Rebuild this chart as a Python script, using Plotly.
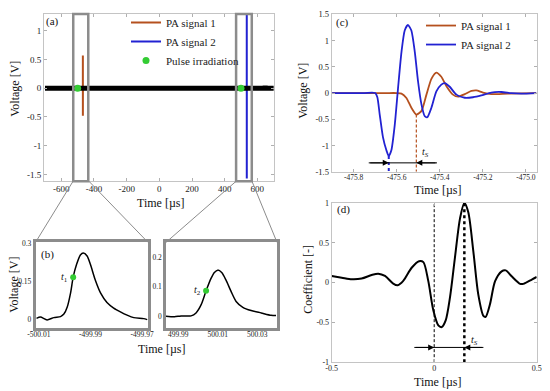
import plotly.graph_objects as go

# Browser body has an 8px margin: the figure is sized to fill the rest of the 550x391 window.
REF_W, REF_H, OFF = 550, 391, 8
W, H = REF_W - OFF, REF_H - OFF
FONT = "Liberation Serif"

# ---------------- Panel (a): full record ----------------
a_bg_t = [-700, -600, -500, -400, -300, -200, -100, 0, 100, 200, 300, 400, 500, 600, 646, 648, 650, 700]
a_bg_v = [0.0, 0.0, 0.0, 0.0, 0.0, 0.0, 0.0, 0.0, 0.0, 0.0, 0.0, 0.0, 0.0, 0.0, 0.0, 0.04, 0.0, 0.0]
a_sig1_t = [-468.2, -468.1, -468.0, -467.9, -467.8]
a_sig1_v = [0.0, 0.57, -0.48, 0.25, 0.0]
a_sig2_t = [535.2, 535.3, 535.4, 535.5, 535.6]
a_sig2_v = [0.0, 1.35, -1.57, 0.35, 0.0]
pulse_t = [-500.0, 500.0]
pulse_v = [0.0, 0.0]
box_t0 = [-527, 470]
box_t1 = [-435, 566]
a_xticks = [-600, -400, -200, 0, 200, 400, 600]
a_xtext = ["-600", "-400", "-200", "0", "200", "400", "600"]
a_yticks = [-1.5, -1, -0.5, 0, 0.5, 1]
a_ytext = ["-1.5", "-1", "-0.5", "0", "0.5", "1"]

# ---------------- Panel (b): zoom on pulses ----------------
b1_t = [-500.0109, -500.0094, -500.0068, -500.0042, -500.0016, -500.0003, -499.9990, -499.9977,
        -499.9967, -499.9954, -499.9939, -499.9928, -499.9913, -499.9900, -499.9881, -499.9861,
        -499.9836, -499.9810, -499.9784, -499.9758, -499.9732, -499.9694, -499.9680]
b1_v = [0.003, 0.008, -0.003, 0.006, 0.010, 0.020, 0.048, 0.104,
        0.166, 0.216, 0.254, 0.262, 0.250, 0.216, 0.154, 0.104,
        0.066, 0.044, 0.029, 0.016, 0.006, 0.002, -0.002]
b1_pt_t = [-499.9967]
b1_pt_v = [0.166]
b2_t = [499.9833, 499.9881, 499.9914, 499.9965, 499.9990, 500.0016, 500.0041, 500.0066, 500.0083,
        500.0100, 500.0120, 500.0142, 500.0168, 500.0193, 500.0227, 500.0269, 500.0320, 500.0370, 500.0395]
b2_v = [0.0, -0.002, 0.001, 0.001, 0.011, 0.039, 0.086, 0.128, 0.148,
        0.156, 0.148, 0.122, 0.083, 0.050, 0.030, 0.019, 0.011, 0.003, 0.002]
b2_pt_t = [500.0041]
b2_pt_v = [0.086]
b1_xticks = [-500.01, -499.99, -499.97]
b1_xtext = ["-500.01", "-499.99", "-499.97"]
b1_yticks = [0, 0.15, 0.3]
b1_ytext = ["0", "0.15", "0.3"]
b2_xticks = [499.99, 500.01, 500.03]
b2_xtext = ["499.99", "500.01", "500.03"]
b2_yticks = [0, 0.1, 0.2]
b2_ytext = ["0", "0.1", "0.2"]

# ---------------- Panel (c): PA signals ----------------
c_sig1_t = [-475.90, -475.75, -475.65, -475.60, -475.578, -475.555, -475.532, -475.509, -475.485, -475.462,
            -475.439, -475.416, -475.393, -475.369, -475.339, -475.315, -475.284, -475.253, -475.230,
            -475.200, -475.161, -475.083, -474.952]
c_sig1_v = [0.0, 0.0, 0.0, 0.0, -0.01, -0.095, -0.28, -0.41, -0.34, -0.03,
            0.27, 0.39, 0.31, 0.13, -0.03, -0.07, -0.02, 0.04, 0.05,
            0.01, -0.02, -0.01, 0.0]
c_sig2_t = [-475.90, -475.75, -475.70, -475.690, -475.679, -475.664, -475.648, -475.637, -475.625, -475.609,
            -475.594, -475.578, -475.563, -475.548, -475.532, -475.516, -475.501, -475.485, -475.470,
            -475.458, -475.439, -475.416, -475.393, -475.377, -475.354, -475.323, -475.284, -475.246,
            -475.207, -475.161, -475.114, -475.068, -475.021, -474.952]
c_sig2_v = [0.0, 0.0, 0.0, -0.08, -0.41, -0.84, -1.09, -1.20, -1.09, -0.60,
            0.09, 0.78, 1.19, 1.30, 1.19, 0.78, 0.22, -0.22, -0.44,
            -0.46, -0.28, 0.03, 0.16, 0.19, 0.12, -0.03, -0.09, -0.08,
            -0.045, 0.01, 0.02, -0.003, -0.01, 0.0]
c_arrow_start = [-475.73, -475.413]
c_arrow_y = -1.33
c_xticks = [-475.8, -475.6, -475.4, -475.2, -475.0]
c_xtext = ["-475.8", "-475.6", "-475.4", "-475.2", "-475.0"]
c_yticks = [-1.5, -1, -0.5, 0, 0.5, 1, 1.5]
c_ytext = ["-1.5", "-1", "-0.5", "0", "0.5", "1", "1.5"]

# ---------------- Panel (d): cross-correlation ----------------
d_t = [-0.500, -0.451, -0.402, -0.354, -0.305, -0.273, -0.240, -0.200, -0.178, -0.151, -0.110,
       -0.074, -0.053, -0.029, -0.004, 0.020, 0.037, 0.056, 0.077, 0.101, 0.126, 0.147, 0.166,
       0.191, 0.215, 0.240, 0.251, 0.272, 0.297, 0.329, 0.349, 0.378, 0.419, 0.435, 0.476, 0.500]
d_v = [0.083, 0.062, 0.041, 0.050, 0.095, 0.112, 0.083, -0.012, -0.033, 0.021, 0.186,
       0.269, 0.257, 0.021, -0.352, -0.538, -0.559, -0.476, -0.186, 0.311, 0.807, 1.000, 0.886,
       0.390, -0.149, -0.418, -0.430, -0.273, 0.017, 0.141, 0.153, 0.079, -0.016, -0.016, 0.037, 0.070]
d_arrow_start = [-0.097, 0.24]
d_arrow_y = -0.815
d_xticks = [-0.5, 0, 0.5]
d_xtext = ["-0.5", "0", "0.5"]
d_yticks = [-1, -0.5, 0, 0.5, 1]
d_ytext = ["-1", "-0.5", "0", "0.5", "1"]

C1 = "#B5501E"
C2 = "#2222D2"
CG = "#33CC33"
GRAY = "#8c8c8c"


def px(x):
    return (x - OFF) / W


def py(y):
    return 1 - (y - OFF) / H


def dom_x(a, b):
    return [px(a), px(b)]


def dom_y(top, bottom):
    return [py(bottom), py(top)]


fig = go.Figure()

# (a)
fig.add_trace(go.Scatter(x=a_sig1_t, y=a_sig1_v, mode="lines", line=dict(color=C1, width=2),
                         name="PA signal 1", xaxis="x", yaxis="y", legend="legend"))
fig.add_trace(go.Scatter(x=a_sig2_t, y=a_sig2_v, mode="lines", line=dict(color=C2, width=2),
                         name="PA signal 2", xaxis="x", yaxis="y", legend="legend"))
fig.add_trace(go.Scatter(x=a_bg_t, y=a_bg_v, mode="lines", line=dict(color="black", width=5),
                         showlegend=False, xaxis="x", yaxis="y"))
fig.add_trace(go.Scatter(x=pulse_t, y=pulse_v, mode="markers", marker=dict(color=CG, size=7),
                         name="Pulse irradiation", xaxis="x", yaxis="y", legend="legend"))

# (b)
fig.add_trace(go.Scatter(x=b1_t, y=b1_v, mode="lines",
                         line=dict(color="black", width=1.5, shape="spline", smoothing=0.7),
                         showlegend=False, xaxis="x2", yaxis="y2"))
fig.add_trace(go.Scatter(x=b1_pt_t, y=b1_pt_v, mode="markers", marker=dict(color=CG, size=6),
                         showlegend=False, xaxis="x2", yaxis="y2"))
fig.add_trace(go.Scatter(x=b2_t, y=b2_v, mode="lines",
                         line=dict(color="black", width=1.5, shape="spline", smoothing=0.7),
                         showlegend=False, xaxis="x3", yaxis="y3"))
fig.add_trace(go.Scatter(x=b2_pt_t, y=b2_pt_v, mode="markers", marker=dict(color=CG, size=6),
                         showlegend=False, xaxis="x3", yaxis="y3"))

# (c)
i1 = c_sig1_v.index(min(c_sig1_v))
i2 = c_sig2_v.index(min(c_sig2_v))
t1_min, v1_min = c_sig1_t[i1], c_sig1_v[i1]
t2_min, v2_min = c_sig2_t[i2], c_sig2_v[i2]
fig.add_trace(go.Scatter(x=c_sig1_t, y=c_sig1_v, mode="lines",
                         line=dict(color=C1, width=1.8, shape="spline", smoothing=0.6),
                         name="PA signal 1", xaxis="x4", yaxis="y4", legend="legend2"))
fig.add_trace(go.Scatter(x=c_sig2_t, y=c_sig2_v, mode="lines",
                         line=dict(color=C2, width=1.8, shape="spline", smoothing=0.6),
                         name="PA signal 2", xaxis="x4", yaxis="y4", legend="legend2"))
fig.add_trace(go.Scatter(x=[t2_min, t2_min], y=[v2_min, -1.5], mode="lines",
                         line=dict(color=C2, width=2, dash="dot"), showlegend=False, xaxis="x4", yaxis="y4"))
fig.add_trace(go.Scatter(x=[t1_min, t1_min], y=[v1_min, -1.5], mode="lines",
                         line=dict(color=C1, width=1.2, dash="3px,2px"), showlegend=False, xaxis="x4", yaxis="y4"))
fig.add_trace(go.Scatter(x=[c_arrow_start[0], c_arrow_start[1]], y=[c_arrow_y, c_arrow_y], mode="lines",
                         line=dict(color="black", width=1), showlegend=False, xaxis="x4", yaxis="y4"))

# (d)
ipk = d_v.index(max(d_v))
tpk = d_t[ipk]
fig.add_trace(go.Scatter(x=d_t, y=d_v, mode="lines",
                         line=dict(color="black", width=2, shape="spline", smoothing=0.8),
                         showlegend=False, xaxis="x5", yaxis="y5"))
fig.add_trace(go.Scatter(x=[0, 0], y=[-1, 1], mode="lines", line=dict(color="black", width=1, dash="3px,2px"),
                         showlegend=False, xaxis="x5", yaxis="y5"))
fig.add_trace(go.Scatter(x=[tpk, tpk], y=[-1, 1], mode="lines", line=dict(color="black", width=2.5, dash="dot"),
                         showlegend=False, xaxis="x5", yaxis="y5"))
fig.add_trace(go.Scatter(x=[d_arrow_start[0], d_arrow_start[1]], y=[d_arrow_y, d_arrow_y], mode="lines",
                         line=dict(color="black", width=1), showlegend=False, xaxis="x5", yaxis="y5"))


def axis(domain, rng, tv, tt, anchor, size=8, frame="#c4c4c4", fw=1, ticks="inside"):
    return dict(domain=domain, range=rng, anchor=anchor, tickvals=tv, ticktext=tt,
                showgrid=False, zeroline=False, showline=True, mirror="ticks" if ticks else True,
                linecolor=frame, linewidth=fw, ticks=ticks, ticklen=3, tickcolor="#b0b0b0",
                tickfont=dict(family=FONT, size=size, color="#222"), automargin=False, fixedrange=True)


layout = dict(
    width=W, height=H, margin=dict(l=0, r=0, t=0, b=0), autosize=False,
    plot_bgcolor="white", paper_bgcolor="white",
    font=dict(family=FONT, size=10, color="#111"),
    xaxis=axis(dom_x(44, 274), [-706, 702], a_xticks, a_xtext, "y", 9),
    yaxis=axis(dom_y(8, 178), [-1.62, 1.29], a_yticks, a_ytext, "x", 9),
    xaxis2=axis(dom_x(35.5, 148), [-500.0113, -499.9677], b1_xticks, b1_xtext, "y2", 7.5, GRAY, 2.5, ""),
    yaxis2=axis(dom_y(240, 326.7), [-0.034, 0.304], b1_yticks, b1_ytext, "x2", 7.5, GRAY, 2.5, ""),
    xaxis3=axis(dom_x(166, 277), [499.9838, 500.040], b2_xticks, b2_xtext, "y3", 7.5, GRAY, 2.5, ""),
    yaxis3=axis(dom_y(240, 326.7), [-0.039, 0.25], b2_yticks, b2_ytext, "x3", 7.5, GRAY, 2.5, ""),
    xaxis4=axis(dom_x(331.7, 536.7), [-475.902, -474.95], c_xticks, c_xtext, "y4", 7.5),
    yaxis4=axis(dom_y(8.3, 168.3), [-1.5, 1.5], c_yticks, c_ytext, "x4", 8.5),
    xaxis5=axis(dom_x(331.7, 536.7), [-0.5, 0.5], d_xticks, d_xtext, "y5", 8),
    yaxis5=axis(dom_y(200, 361.7), [-1, 1], d_yticks, d_ytext, "x5", 8),
    legend=dict(x=px(126), y=py(1.5), xanchor="left", yanchor="top", bgcolor="rgba(0,0,0,0)",
                font=dict(family=FONT, size=11, color="#222"), tracegroupgap=0, itemwidth=30),
    legend2=dict(x=px(421), y=py(5), xanchor="left", yanchor="top", bgcolor="rgba(0,0,0,0)",
                 font=dict(family=FONT, size=11, color="#222"), tracegroupgap=0, itemwidth=30),
    showlegend=True,
)
fig.update_layout(**layout)

# pull tick labels closer to the axes, as in the reference
for name, off in [("xaxis2", -2), ("xaxis3", -2), ("xaxis4", -2), ("xaxis5", -2), ("xaxis", -1)]:
    try:
        fig.layout[name].ticklabelstandoff = off
    except (ValueError, KeyError, AttributeError):
        pass

# zoom boxes in (a)
for t0, t1 in zip(box_t0, box_t1):
    fig.add_shape(type="rect", xref="x", yref="y domain", x0=t0, x1=t1, y0=0, y1=1,
                  line=dict(color=GRAY, width=2.5), layer="above")

# connector lines (a) -> (b)
conn = [((73, 178), (35.5, 240)), ((89, 178), (148, 240)), ((236, 178), (166, 240)), ((252, 178), (277, 240))]
for (xa, ya), (xb, yb) in conn:
    fig.add_shape(type="line", xref="paper", yref="paper", x0=px(xa), y0=py(ya), x1=px(xb), y1=py(yb),
                  line=dict(color=GRAY, width=1))

ann = []


def text(x, y, s, size=12, angle=0, **kw):
    ann.append(dict(x=px(x), y=py(y), xref="paper", yref="paper", text=s, showarrow=False,
                    textangle=angle, font=dict(family=FONT, size=size, color="#111"),
                    xanchor="center", yanchor="middle", **kw))


# axis titles
text(160, 200, "Time [µs]")
text(15, 84, "Voltage [V]", angle=-90)
text(14, 283, "Voltage [V]", angle=-90)
text(161, 348, "Time [µs]")
text(303, 86, "Voltage [V]", angle=-90)
text(437, 187, "Time [µs]")
text(308, 278, "Coefficient [-]", angle=-90)
text(437, 382, "Time [µs]")
# panel labels
text(52, 15.5, "(a)", 11)
text(47, 252, "(b)", 11)
text(342, 16.3, "(c)", 11)
text(343, 207, "(d)", 11)

# point labels in (b)
ann.append(dict(x=b1_pt_t[0] - 0.0012, y=b1_pt_v[0], xref="x2", yref="y2", text="<i>t</i><sub>1</sub>",
                showarrow=False, xanchor="right", yanchor="middle", font=dict(family=FONT, size=10, color="#111")))
ann.append(dict(x=b2_pt_t[0] - 0.0015, y=b2_pt_v[0], xref="x3", yref="y3", text="<i>t</i><sub>2</sub>",
                showarrow=False, xanchor="right", yanchor="middle", font=dict(family=FONT, size=10, color="#111")))

# arrows in (c)
for start, target in zip(c_arrow_start, [t2_min, t1_min]):
    ann.append(dict(x=target, y=c_arrow_y, ax=start, ay=c_arrow_y, xref="x4", yref="y4", axref="x4", ayref="y4",
                    text="", showarrow=True, arrowhead=2, arrowsize=1.2, arrowwidth=1, arrowcolor="black"))
ann.append(dict(x=-475.465, y=-1.14, xref="x4", yref="y4", text="<i>t</i><sub><i>S</i></sub>", showarrow=False,
                font=dict(family=FONT, size=10, color="#111")))

# arrows in (d)
for start, target in zip(d_arrow_start, [0, tpk]):
    ann.append(dict(x=target, y=d_arrow_y, ax=start, ay=d_arrow_y, xref="x5", yref="y5", axref="x5", ayref="y5",
                    text="", showarrow=True, arrowhead=2, arrowsize=1.2, arrowwidth=1, arrowcolor="black"))
ann.append(dict(x=0.195, y=-0.73, xref="x5", yref="y5", text="<i>t</i><sub><i>S</i></sub>", showarrow=False,
                font=dict(family=FONT, size=10, color="#111")))

fig.update_layout(annotations=ann)
fig.write_html("out.html")
